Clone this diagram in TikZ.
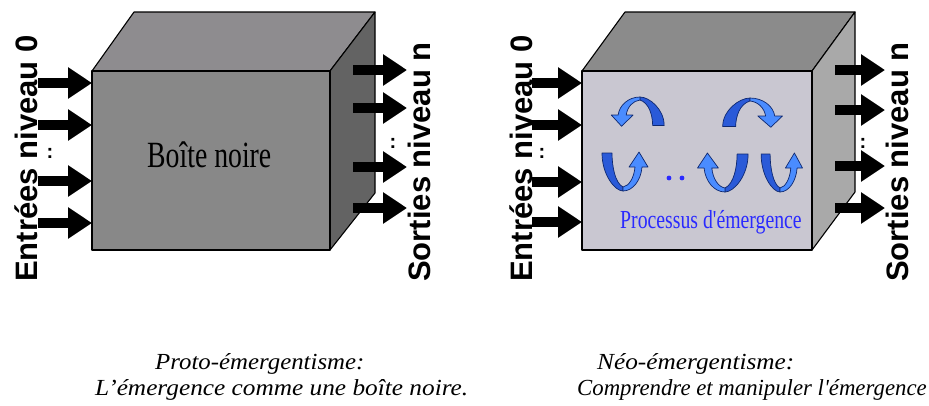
\documentclass[tikz,border=0pt]{standalone}
\usepackage{fontspec}
\setmainfont{Liberation Serif}
\newfontfamily\labelfont{Liberation Sans}
\usetikzlibrary{arrows.meta}

\definecolor{bnFront}{HTML}{888888}
\definecolor{bnTop}{HTML}{8E8C8F}
\definecolor{bnSide}{HTML}{636363}
\definecolor{neFront}{HTML}{C9C7D1}
\definecolor{neTop}{HTML}{8B8B8B}
\definecolor{neSide}{HTML}{A9A9A9}
\definecolor{ribDark}{HTML}{2A5AD8}
\definecolor{ribLight}{HTML}{4A8CFF}
\definecolor{ribLine}{HTML}{0E2870}
\definecolor{procBlue}{HTML}{2A2AFF}

\tikzset{
  x=1pt, y=-1pt,
  boxedge/.style={draw=black, line width=1.1pt, line join=round},
  frontedge/.style={draw=black, line width=2.6pt},
  blockarrow/.style={draw=black, line width=10pt,
    -{Triangle[length=24pt,width=30pt]}},
  sidelabel/.style={font=\labelfont\bfseries\fontsize{31}{31}\selectfont,
    rotate=90, anchor=base west, inner sep=0pt},
  colonmark/.style={font=\labelfont\bfseries\fontsize{20}{20}\selectfont,
    inner sep=0pt},
  caption/.style={font=\itshape\fontsize{23}{23}\selectfont, inner sep=0pt,
    anchor=base west},
  % twisted ribbon arrow: open U with the tip on the right arm
  ribbon/.pic={
    \fill[ribDark, draw=ribLine, line width=0.7pt, line join=round]
      (-21,-38) .. controls (-21,-16) and (-8,0) .. (0,0)
      -- (0,-4) .. controls (-8,-8) and (-11,-25) .. (-11,-38) -- cycle;
    \fill[ribLight, draw=ribLine, line width=0.7pt, line join=round]
      (0,0) .. controls (10,0) and (18,-11) .. (19,-24)
      -- (25,-24) -- (16,-39) -- (6,-24) -- (12,-24)
      .. controls (11,-13) and (6,-5) .. (0,-4) -- cycle;
  }
}

\begin{document}
\begin{tikzpicture}
\useasboundingbox (0,0) rectangle (929,405);
\fill[white] (0,0) rectangle (929,405);

% ---------- black box ----------
\fill[bnTop, boxedge] (92,71) -- (134,12) -- (375,12) -- (330,71) -- cycle;
\fill[bnSide, boxedge] (330,71) -- (375,12) -- (375,193) -- (330,250) -- cycle;
\fill[bnFront, boxedge] (92,71) rectangle (330,250);
\draw[frontedge] (92,71) -- (330,71);
\node[anchor=base west, inner sep=0pt] (bn-text) at (147,167)
  {\fontsize{37}{37}\selectfont\scalebox{0.75}[1]{Boîte noire}};

\node[sidelabel] (bn-in) at (37,282) {Entrées niveau 0};
\node[sidelabel] (bn-out) at (430,282) {Sorties niveau n};
\node[colonmark] (bn-in-dots) at (50,153) {:};
\node[colonmark] (bn-out-dots) at (393,143) {:};

\foreach \yy [count=\i] in {83,125,181,223} {
  \coordinate (bn-in-s\i) at (38,\yy);
  \coordinate (bn-in-e\i) at (92,\yy);
  \draw[blockarrow] (bn-in-s\i) -- (bn-in-e\i);
}
\foreach \yy [count=\i] in {70,108,167,208} {
  \coordinate (bn-out-s\i) at (353,\yy);
  \coordinate (bn-out-e\i) at (407,\yy);
  \draw[blockarrow] (bn-out-s\i) -- (bn-out-e\i);
}

% ---------- emergence box ----------
\fill[neTop, boxedge] (582,71) -- (625,12) -- (855,12) -- (812,71) -- cycle;
\fill[neSide, boxedge] (812,71) -- (855,12) -- (855,192) -- (812,250) -- cycle;
\fill[neFront, boxedge] (582,71) rectangle (812,250);
\draw[frontedge] (582,71) -- (812,71);

\pic[xscale=-1.15, yscale=-0.75] at (640,97) {ribbon};
\pic[xscale=1.3, yscale=-0.75] at (750,98) {ribbon};
\pic at (623,191) {ribbon};
\pic[xscale=-1.1] at (725,192) {ribbon};
\pic[xscale=0.9] at (780,192) {ribbon};
\fill[procBlue] (669,178) circle (2.4) (682,178) circle (2.4);

\node[anchor=base west, inner sep=0pt, text=procBlue] (ne-text) at (620,228)
  {\fontsize{26}{26}\selectfont\scalebox{0.76}[1]{Processus d\textquotesingle émergence}};

\node[sidelabel] (ne-in) at (532,282) {Entrées niveau 0};
\node[sidelabel] (ne-out) at (908,282) {Sorties niveau n};
\node[colonmark] (ne-in-dots) at (542,153) {:};
\node[colonmark] (ne-out-dots) at (863,143) {:};

\foreach \yy [count=\i] in {83,125,182,222} {
  \coordinate (ne-in-s\i) at (532,\yy);
  \coordinate (ne-in-e\i) at (582,\yy);
  \draw[blockarrow] (ne-in-s\i) -- (ne-in-e\i);
}
\foreach \yy [count=\i] in {70,110,166,208} {
  \coordinate (ne-out-s\i) at (835,\yy);
  \coordinate (ne-out-e\i) at (885,\yy);
  \draw[blockarrow] (ne-out-s\i) -- (ne-out-e\i);
}

% ---------- captions ----------
\node[caption] (cap-l1) at (155,369) {\scalebox{1.08}[1]{Proto-émergentisme:}};
\node[caption] (cap-l2) at (95,395) {\scalebox{1.1}[1]{L'émergence comme une boîte noire.}};
\node[caption] (cap-r1) at (597,369) {\scalebox{1.1}[1]{Néo-émergentisme:}};
\node[caption] (cap-r2) at (577,395) {\scalebox{0.99}[1]{Comprendre et manipuler l\textquotesingle émergence}};
\end{tikzpicture}
\end{document}
